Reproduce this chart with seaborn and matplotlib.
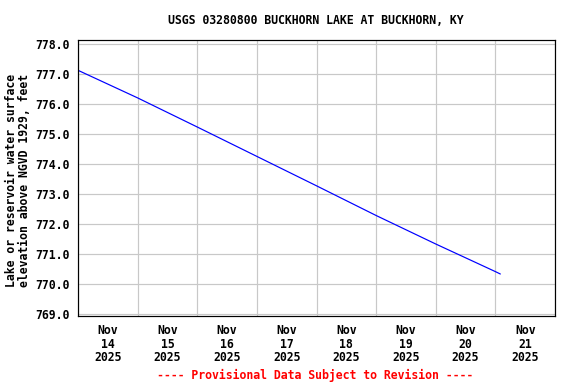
"""
Buckhorn Lake reservoir elevation chart (USGS style)
"""
import pandas as pd
import matplotlib
matplotlib.use("Agg")
import matplotlib.pyplot as plt
import matplotlib.dates as mdates
import seaborn as sns

# values
times = ["2025-11-14 00:00", "2025-11-15 00:00", "2025-11-16 00:00",
         "2025-11-17 00:00", "2025-11-18 00:00", "2025-11-19 00:00",
         "2025-11-20 00:00", "2025-11-21 00:00", "2025-11-21 02:00"]
elevation = [777.12, 776.20, 775.23, 774.25, 773.27, 772.28, 771.33, 770.41, 770.33]
day_labels = ["Nov\n14\n2025", "Nov\n15\n2025", "Nov\n16\n2025", "Nov\n17\n2025",
              "Nov\n18\n2025", "Nov\n19\n2025", "Nov\n20\n2025", "Nov\n21\n2025"]
y_ticks = [769.0, 770.0, 771.0, 772.0, 773.0, 774.0, 775.0, 776.0, 777.0, 778.0]

df = pd.DataFrame({"time": pd.to_datetime(times), "elev": elevation})

sns.set_style("white")
plt.rcParams["font.family"] = ["DejaVu Sans Mono"]
plt.rcParams["font.weight"] = "bold"
plt.rcParams["text.color"] = "black"
plt.rcParams["xtick.color"] = "black"
plt.rcParams["ytick.color"] = "black"

fig = plt.figure(figsize=(8, 384 / 72), dpi=72)
ax = fig.add_axes([78 / 576, 68 / 384, 477 / 576, 276 / 384])

sns.lineplot(data=df, x="time", y="elev", ax=ax, color="#0000ff", linewidth=1.2)

# grid at midnight, labels at noon
midnights = pd.date_range("2025-11-14", "2025-11-22", freq="D")
noons = midnights[:-1] + pd.Timedelta(hours=12)
ax.set_xlim(midnights[0], midnights[-1])
ax.set_xticks(mdates.date2num(midnights), minor=True)
ax.set_xticks(mdates.date2num(noons))
ax.set_xticklabels(day_labels, fontsize=11.5, fontweight="bold", linespacing=1.05,
                   color="black")
ax.set_ylim(768.93, 778.13)
ax.set_yticks(y_ticks)
ax.set_yticklabels([f"{v:.1f}" for v in y_ticks], fontsize=11.5, fontweight="bold",
                   color="black")
ax.tick_params(axis="both", which="both", length=0)
ax.tick_params(axis="x", pad=8)
ax.tick_params(axis="y", pad=8)

ax.grid(True, which="minor", axis="x", color="#c8c8c8", linewidth=1.2)
ax.grid(True, which="major", axis="y", color="#c8c8c8", linewidth=1.2)
ax.grid(False, which="major", axis="x")
ax.set_axisbelow(True)
for s in ax.spines.values():
    s.set_color("black")
    s.set_linewidth(1.2)
ax.set_xlabel("")
ax.set_ylabel("")

fig.text(316 / 576, 1 - 20 / 384, "USGS 03280800 BUCKHORN LAKE AT BUCKHORN, KY",
         ha="center", va="center", fontsize=11.5, fontweight="bold", color="black")
fig.text(18 / 576, 1 - 180 / 384,
         "Lake or reservoir water surface\nelevation above NGVD 1929, feet",
         ha="center", va="center", rotation=90, fontsize=11.5, fontweight="bold",
         linespacing=0.95, color="black")
fig.text(315 / 576, 1 - 375 / 384, "---- Provisional Data Subject to Revision ----",
         ha="center", va="center", fontsize=11.5, fontweight="bold", color="red")

fig.savefig("out.png", dpi=72)
